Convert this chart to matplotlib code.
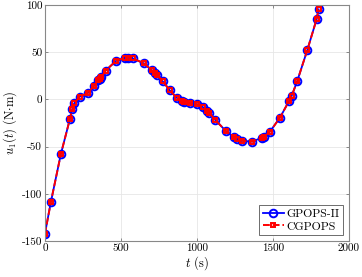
import matplotlib.pyplot as plt
import numpy as np

plt.rcParams['font.family'] = 'serif'
plt.rcParams['font.serif'] = ['cmr10', 'DejaVu Serif']
plt.rcParams['mathtext.fontset'] = 'cm'
plt.rcParams['axes.unicode_minus'] = False

# control u1 vs time, both solvers give the same points
t_gpops = [0, 39, 105, 165, 180, 193, 230, 281, 324, 352, 362, 372, 399, 467,
           526, 548, 577, 651, 702, 724, 739, 776, 822, 866, 899, 917, 952,
           1003, 1042, 1064, 1079, 1121, 1189, 1242, 1265, 1295, 1364, 1425,
           1440, 1480, 1546, 1607, 1623, 1660, 1726, 1787, 1800]
u_gpops = [-142.6, -109, -58, -20.5, -10.5, -4, 3, 6.5, 14.5, 20.5, 22, 23.5,
           30.4, 40.7, 44.2, 44.2, 43.5, 38.2, 31, 28, 26, 19, 9.5, 1.8, -1.7,
           -2.8, -3.8, -5.2, -8.4, -12, -14, -21.8, -33.3, -40, -42, -43.8,
           -44.8, -40.6, -39.5, -34.2, -19.4, -1.4, 3.6, 19.5, 52.3, 84.8, 95.4]
t_cgpops = list(t_gpops)
u_cgpops = list(u_gpops)

xticks = [0, 500, 1000, 1500, 2000]
yticks = [-150, -100, -50, 0, 50, 100]

fig = plt.figure(figsize=(3.62, 2.77), dpi=100)
ax = fig.add_axes([0.124, 0.130, 0.840, 0.852])

ax.plot(t_gpops, u_gpops, '-o', color='blue', lw=1.3, ms=5.5, mew=1.4,
        mfc='none', label='GPOPS-II')
ax.plot(t_cgpops, u_cgpops, '--s', color='red', lw=1.4, ms=3.4, mew=1.4,
        mfc='none', dashes=(3.5, 1.5), label='CGPOPS')

ax.set_xlim(0, 2000)
ax.set_ylim(-150, 100)
ax.set_xticks(xticks)
ax.set_xticklabels([str(v) for v in xticks])
ax.set_yticks(yticks)
ax.set_yticklabels([str(v) for v in yticks])
ax.grid(True, color='#e6e6e6', lw=0.6)
ax.set_axisbelow(True)
ax.tick_params(direction='in', length=2.5, width=0.6, color='#777777',
               labelsize=8, top=True, right=True, pad=2)
for s in ax.spines.values():
    s.set_color('#888888')
    s.set_linewidth(0.8)

ax.set_xlabel('$t$ (s)', fontsize=9, labelpad=1)
ax.set_ylabel('$u_1(t)$ (N$\\cdot$m)', fontsize=9, labelpad=2)

leg = ax.legend(loc='lower right', fontsize=8.5, fancybox=False, framealpha=1,
                edgecolor='#555555', borderpad=0.3, handlelength=1.8,
                handletextpad=0.2, labelspacing=0.2, borderaxespad=0.5)
leg.get_frame().set_linewidth(0.6)

fig.savefig('out.png', dpi=100)
